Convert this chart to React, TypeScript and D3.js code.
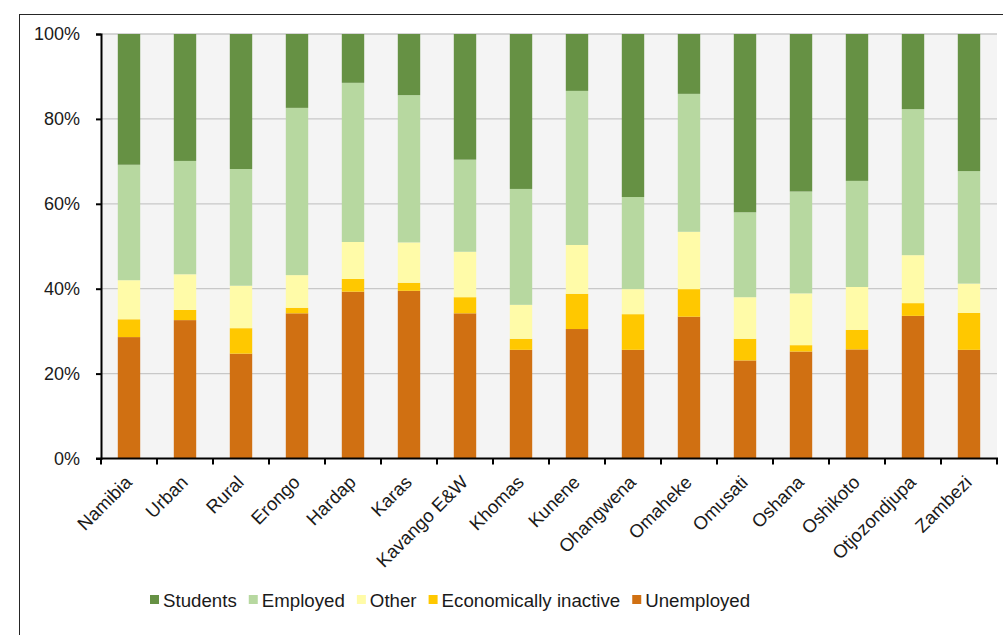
import { useEffect, useRef } from 'react';
import * as d3 from 'd3';

const categories = [
  'Namibia', 'Urban', 'Rural', 'Erongo', 'Hardap', 'Karas', 'Kavango E&W', 'Khomas',
  'Kunene', 'Ohangwena', 'Omaheke', 'Omusati', 'Oshana', 'Oshikoto', 'Otjozondjupa', 'Zambezi',
];

// shares in %, bottom to top
const unemployed = [28.6, 32.6, 24.7, 34.2, 39.3, 39.5, 34.2, 25.6, 30.5, 25.6, 33.4, 23.1, 25.2, 25.7, 33.6, 25.6];
const inactive = [4.2, 2.4, 6.0, 1.3, 3.0, 1.9, 3.8, 2.6, 8.3, 8.4, 6.5, 5.1, 1.5, 4.6, 3.0, 8.7];
const other = [9.2, 8.4, 10.0, 7.7, 8.7, 9.5, 10.7, 8.0, 11.5, 5.9, 13.5, 9.8, 12.2, 10.1, 11.3, 6.9];
const employed = [27.2, 26.7, 27.5, 39.4, 37.5, 34.7, 21.7, 27.3, 36.3, 21.7, 32.5, 20.0, 24.0, 25.0, 34.4, 26.5];
const students = [30.8, 29.9, 31.8, 17.4, 11.5, 14.4, 29.6, 36.5, 13.4, 38.4, 14.1, 42.0, 37.1, 34.6, 17.7, 32.3];

const yTicks = [0, 20, 40, 60, 80, 100];

const series = [
  { key: 'unemployed', label: 'Unemployed', values: unemployed, color: '#d07012' },
  { key: 'inactive', label: 'Economically inactive', values: inactive, color: '#ffc800' },
  { key: 'other', label: 'Other', values: other, color: '#fffba8' },
  { key: 'employed', label: 'Employed', values: employed, color: '#b7d8a0' },
  { key: 'students', label: 'Students', values: students, color: '#669144' },
];

const FONT = "'Liberation Sans', Arial, sans-serif";

export default function App() {
  const svgRef = useRef<SVGSVGElement | null>(null);

  useEffect(() => {
    if (!svgRef.current) return;
    const width = 1003;
    const height = 635;
    const plot = { left: 101, right: 997, top: 34, bottom: 458.5 };

    const svg = d3.select(svgRef.current);
    svg.selectAll('*').remove();
    svg.attr('width', width).attr('height', height);

    svg.append('rect').attr('width', width).attr('height', height).attr('fill', '#fff');

    // outer chart frame
    svg.append('rect')
      .attr('x', 19.5).attr('y', 14.5)
      .attr('width', 1000).attr('height', 650)
      .attr('fill', 'none').attr('stroke', '#262626').attr('stroke-width', 1);

    const rows = categories.map((c, i) => {
      const r: Record<string, any> = { cat: c };
      series.forEach(s => { r[s.key] = s.values[i]; });
      return r;
    });
    const stacked = d3.stack<any>().keys(series.map(s => s.key))(rows);

    const x = d3.scaleBand()
      .domain(categories)
      .range([plot.left, plot.right])
      .paddingInner(0.6)
      .paddingOuter(0.3);
    const step = (plot.right - plot.left) / categories.length;

    const y = d3.scaleLinear().domain([0, 100]).range([plot.bottom, plot.top]);

    // plot background
    svg.append('rect')
      .attr('x', plot.left).attr('y', plot.top)
      .attr('width', plot.right - plot.left).attr('height', plot.bottom - plot.top)
      .attr('fill', '#f4f4f4');

    // grid
    svg.append('g')
      .selectAll('line')
      .data(yTicks.filter(t => t > 0))
      .join('line')
      .attr('x1', plot.left).attr('x2', plot.right)
      .attr('y1', d => y(d)).attr('y2', d => y(d))
      .attr('stroke', '#c8c8c8').attr('stroke-width', 1.3);

    // bars
    svg.append('g')
      .selectAll('g')
      .data(stacked)
      .join('g')
      .attr('fill', (_, i) => series[i].color)
      .selectAll('rect')
      .data(d => d)
      .join('rect')
      .attr('x', d => x(d.data.cat) as number)
      .attr('width', x.bandwidth())
      .attr('y', d => y(d[1]))
      .attr('height', d => y(d[0]) - y(d[1]));

    // y axis
    const yAxis = svg.append('g').attr('transform', `translate(${plot.left},0)`)
      .call(d3.axisLeft(y).tickValues(yTicks).tickSize(5).tickPadding(16).tickFormat(d => `${d}%`));
    yAxis.select('.domain').attr('stroke', '#000').attr('stroke-width', 2);
    yAxis.selectAll('.tick line').attr('stroke', '#000').attr('stroke-width', 2);
    yAxis.selectAll('text')
      .attr('fill', '#1a1a1a')
      .attr('font-size', '18px')
      .attr('font-family', FONT);

    // x axis line and ticks at category boundaries
    const xg = svg.append('g');
    xg.append('line')
      .attr('x1', plot.left - 5).attr('x2', plot.right + 1)
      .attr('y1', plot.bottom).attr('y2', plot.bottom)
      .attr('stroke', '#000').attr('stroke-width', 2);
    xg.selectAll('line.tick')
      .data(d3.range(categories.length + 1))
      .join('line')
      .attr('class', 'tick')
      .attr('x1', i => plot.left + i * step).attr('x2', i => plot.left + i * step)
      .attr('y1', plot.bottom).attr('y2', plot.bottom + 6)
      .attr('stroke', '#000').attr('stroke-width', 2);

    xg.selectAll('text')
      .data(categories)
      .join('text')
      .attr('transform', d => `translate(${(x(d) as number) + x.bandwidth() / 2 + 4},${plot.bottom + 25}) rotate(-45)`)
      .attr('text-anchor', 'end')
      .attr('font-size', '18.5px')
      .attr('font-family', FONT)
      .attr('fill', '#1a1a1a')
      .text(d => d);

    // legend
    const legendFont = 18.7;
    const ctx = document.createElement('canvas').getContext('2d');
    if (ctx) ctx.font = `${legendFont}px ${FONT}`;
    const legendItems = [...series].reverse();
    let lx = 150;
    const legend = svg.append('g');
    legendItems.forEach(s => {
      legend.append('rect')
        .attr('x', lx).attr('y', 595)
        .attr('width', 9).attr('height', 9)
        .attr('fill', s.color);
      legend.append('text')
        .attr('x', lx + 13).attr('y', 607)
        .attr('font-size', `${legendFont}px`)
        .attr('font-family', FONT)
        .attr('fill', '#1a1a1a')
        .text(s.label);
      const w = ctx ? ctx.measureText(s.label).width : s.label.length * 9;
      lx += 13 + w + 12;
    });
  }, []);

  return (
    <svg ref={svgRef} style={{ position: 'absolute', left: 0, top: 0 }}></svg>
  );
}
